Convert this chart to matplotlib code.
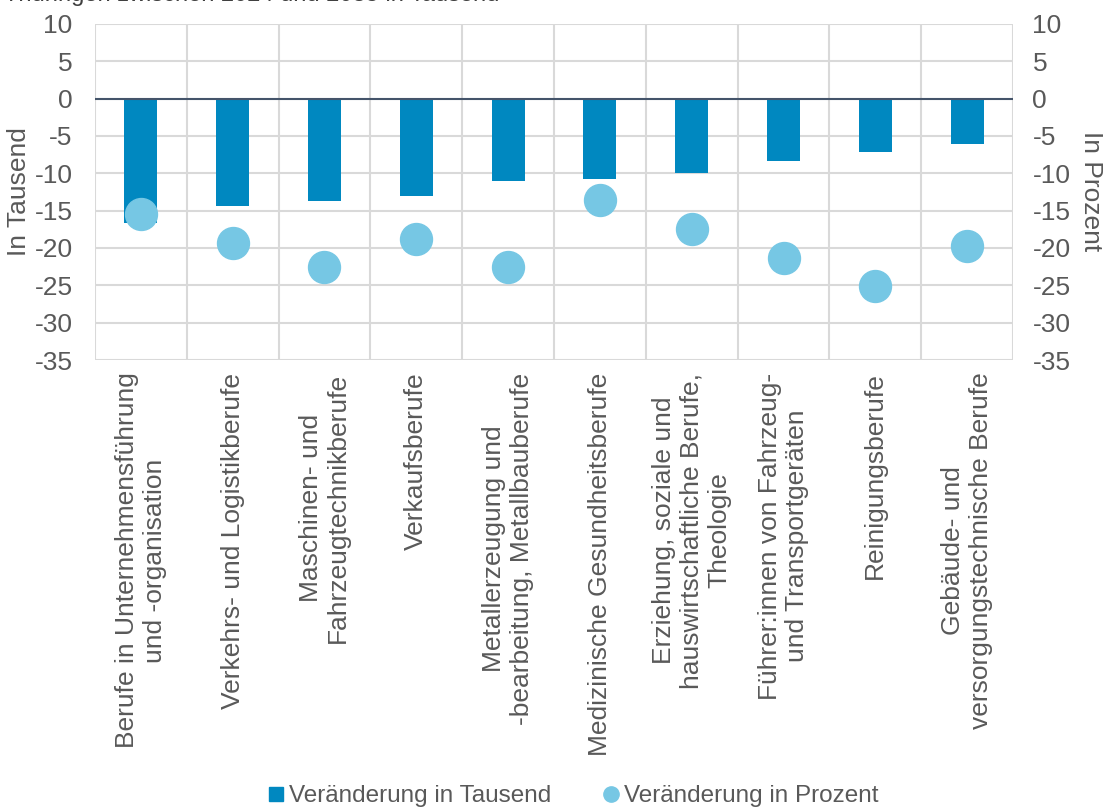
import numpy as np
import matplotlib.pyplot as plt
from matplotlib.lines import Line2D

plt.rcParams['font.family'] = ['Liberation Sans', 'DejaVu Sans']
plt.rcParams['axes.unicode_minus'] = False

# Daten
kategorien = [
    'Berufe in Unternehmensführung\nund -organisation',
    'Verkehrs- und Logistikberufe',
    'Maschinen- und\nFahrzeugtechnikberufe',
    'Verkaufsberufe',
    'Metallerzeugung und\n-bearbeitung, Metallbauberufe',
    'Medizinische Gesundheitsberufe',
    'Erziehung, soziale und\nhauswirtschaftliche Berufe,\nTheologie',
    'Führer:innen von Fahrzeug-\nund Transportgeräten',
    'Reinigungsberufe',
    'Gebäude- und\nversorgungstechnische Berufe',
]
veraenderung_tausend = [-16.6, -14.4, -13.7, -13.1, -11.1, -10.8, -9.9, -8.4, -7.1, -6.1]
veraenderung_prozent = [-15.4, -19.3, -22.5, -18.8, -22.5, -13.6, -17.5, -21.4, -25.1, -19.7]
y_ticks = [10, 5, 0, -5, -10, -15, -20, -25, -30, -35]

farbe_balken = '#0088c0'
farbe_punkte = '#76c7e4'
textfarbe = '#595959'
gitter = '#d9d9d9'

fig = plt.figure(figsize=(11.04, 8.09), dpi=100)
ax = fig.add_axes([0.086, 0.555, 0.8316, 0.4155])
ax2 = ax.twinx()

x = np.arange(len(kategorien))
ax.bar(x, veraenderung_tausend, width=0.36, color=farbe_balken, zorder=3,
       label='Veränderung in Tausend')
ax2.plot(x, veraenderung_prozent, 'o', ms=23, color=farbe_punkte, zorder=4,
         label='Veränderung in Prozent')

for a in (ax, ax2):
    a.set_ylim(-35, 10)
    a.set_yticks(y_ticks)
    a.set_xlim(-0.5, len(kategorien) - 0.5)
    for s in a.spines.values():
        s.set_visible(False)
    a.tick_params(length=0, labelsize=19, colors=textfarbe)
ax.tick_params(axis='y', pad=16)
ax2.tick_params(axis='y', pad=14)

# Gitter
for yv in y_ticks:
    if yv != 0:
        ax.axhline(yv, color=gitter, lw=1.5, zorder=0)
for xv in np.arange(-0.5, len(kategorien), 1.0):
    ax.axvline(xv, color=gitter, lw=1.5, zorder=0)
ax.axhline(0, color='#44546a', lw=1.5, zorder=5)

ax.set_xticks(x)
ax.set_xticklabels(kategorien, rotation=90, ha='center', va='top',
                   multialignment='center', fontsize=19, color=textfarbe)
ax.tick_params(axis='x', pad=9)

# Achsentitel
fig.text(19 / 1104, 1 - 192 / 809, 'In Tausend', fontsize=19, color=textfarbe,
         rotation=90, ha='center', va='center')
fig.text(1091 / 1104, 1 - 191 / 809, 'In Prozent', fontsize=19, color=textfarbe,
         rotation=-90, ha='center', va='center')

# abgeschnittener Titel oben
fig.text(4 / 1104, 1 - 1.5 / 809, 'Thüringen zwischen 2024 und 2035 in Tausend', fontsize=17,
         color='#404040', ha='left', va='baseline')

h = [Line2D([], [], marker='s', ls='', ms=10, color=farbe_balken),
     Line2D([], [], marker='o', ls='', ms=11, color=farbe_punkte)]
labels = ['Veränderung in Tausend', 'Veränderung in Prozent']
fig.legend(h, labels, loc='center', bbox_to_anchor=(0.518, 0.016),
           ncol=2, frameon=False, fontsize=17.5, labelcolor=textfarbe,
           handletextpad=0.1, columnspacing=2.0, handlelength=0.9)

fig.savefig('out.png', dpi=100)
